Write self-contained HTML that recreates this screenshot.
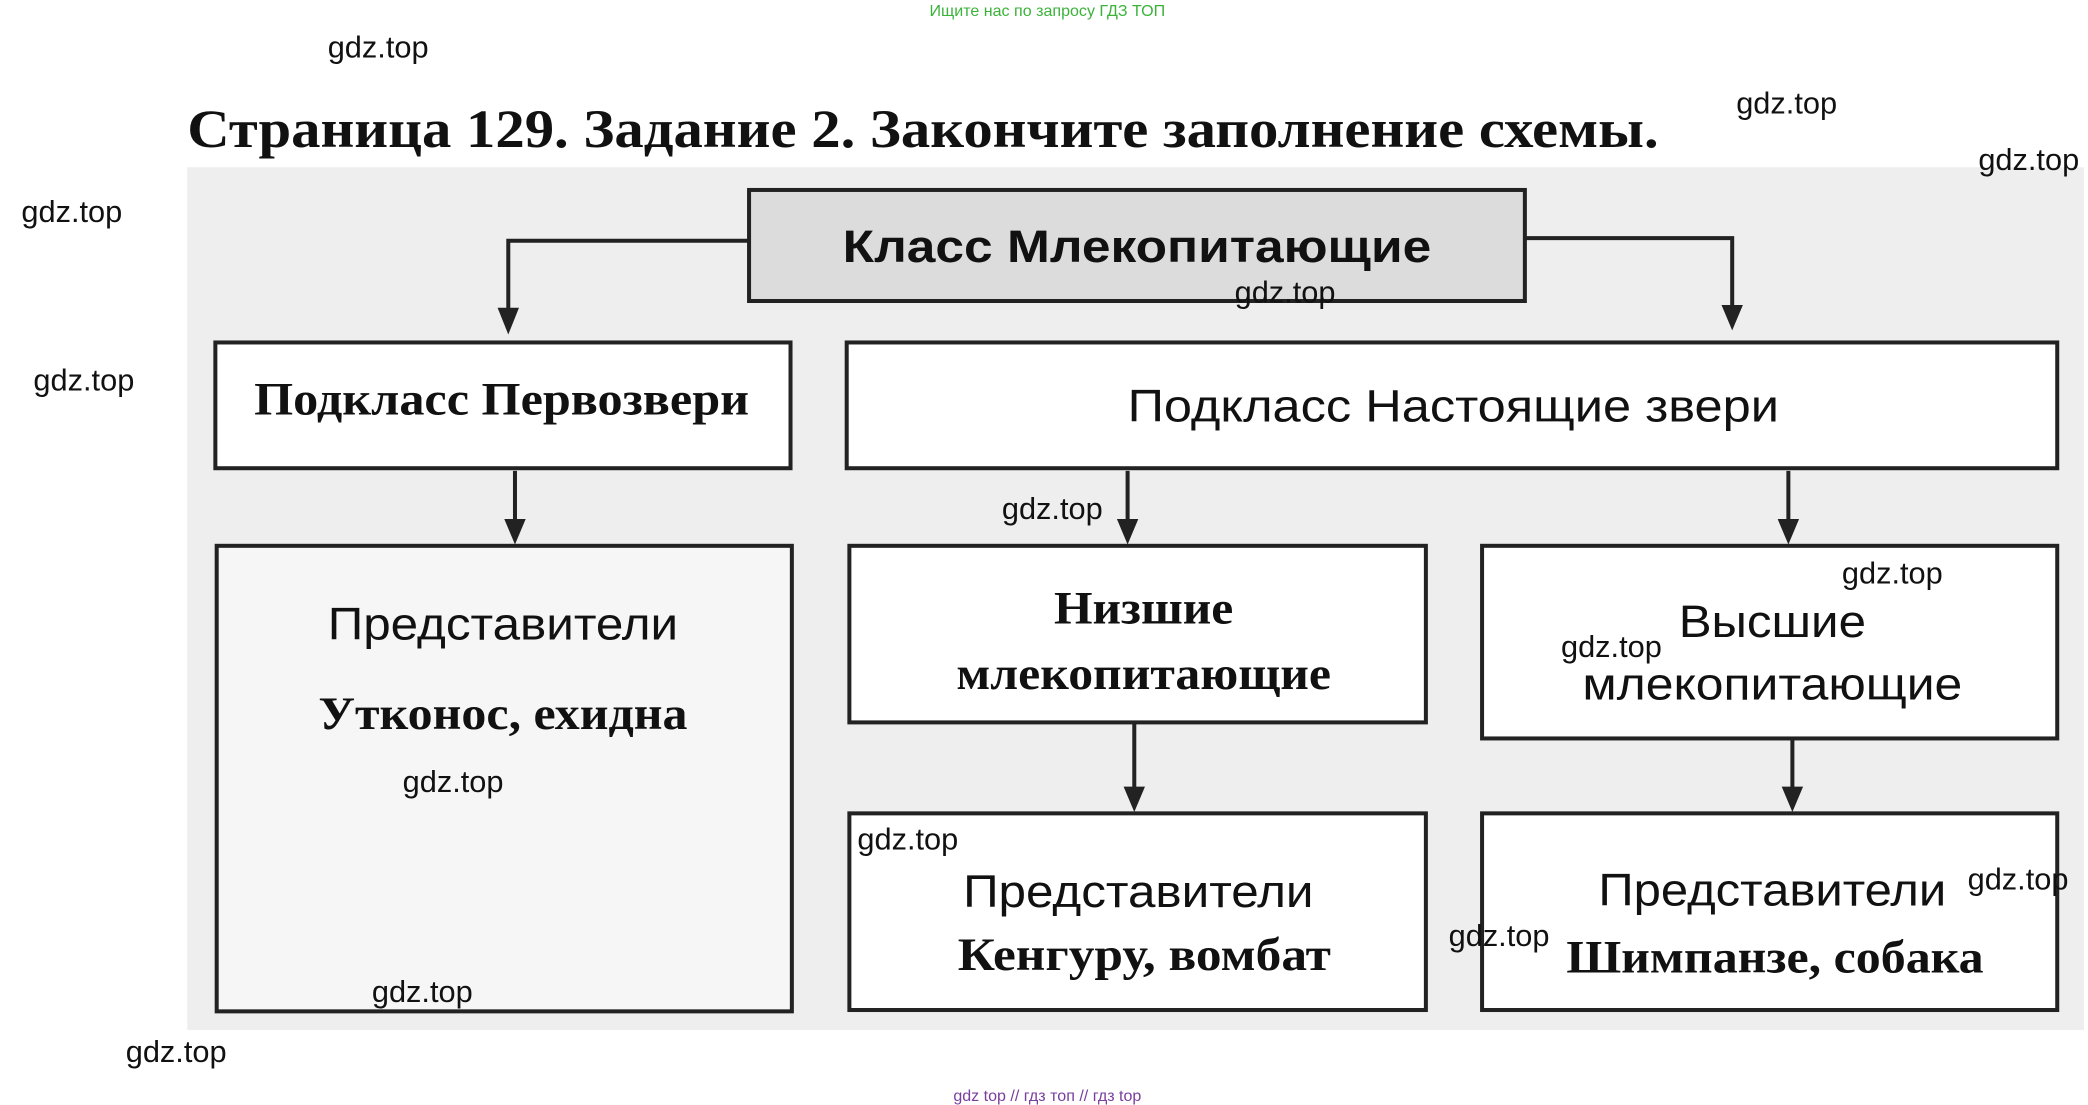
<!DOCTYPE html>
<html><head><meta charset="utf-8"><style>
html,body{margin:0;padding:0;background:#fff;}
svg{display:block;}
.s{font-family:"Liberation Sans",sans-serif;}
.r{font-family:"Liberation Serif",serif;font-weight:bold;}
.g{font-family:"Liberation Sans",sans-serif;font-size:23px;fill:#111;}
</style></head><body>
<svg width="2088" height="1105" viewBox="0 0 1561 826" preserveAspectRatio="none" xmlns="http://www.w3.org/2000/svg">
<rect x="140" y="125" width="1418" height="645" fill="#eeeeee"/>
<text x="783" y="12" text-anchor="middle" class="s" font-size="12" fill="#3bb33b">Ищите нас по запросу ГДЗ ТОП</text>
<text x="140" y="110" class="r" font-size="40" fill="#111" textLength="1100" lengthAdjust="spacingAndGlyphs">Страница 129. Задание 2. Закончите заполнение схемы.</text>
<g stroke="#222" stroke-width="3" fill="none">
<rect x="560" y="142" width="580" height="83" fill="#dcdcdc"/>
<rect x="161" y="256" width="430" height="94" fill="#fff"/>
<rect x="633" y="256" width="905" height="94" fill="#fff"/>
<rect x="162" y="408" width="430" height="348" fill="#f6f6f6"/>
<rect x="635" y="408" width="431" height="132" fill="#fff"/>
<rect x="1108" y="408" width="430" height="144" fill="#fff"/>
<rect x="635" y="608" width="431" height="147" fill="#fff"/>
<rect x="1108" y="608" width="430" height="147" fill="#fff"/>
<polyline points="560,180 380,180 380,240"/>
<polyline points="1140,178 1295,178 1295,236"/>
<line x1="385" y1="352" x2="385" y2="396"/>
<line x1="843" y1="352" x2="843" y2="396"/>
<line x1="1337" y1="352" x2="1337" y2="396"/>
<line x1="848" y1="540" x2="848" y2="596"/>
<line x1="1340" y1="552" x2="1340" y2="596"/>
</g>
<g fill="#222">
<path d="M372,230 L388,230 L380,250 Z"/>
<path d="M1287,228 L1303,228 L1295,247 Z"/>
<path d="M377,388 L393,388 L385,407 Z"/>
<path d="M835,388 L851,388 L843,407 Z"/>
<path d="M1329,388 L1345,388 L1337,407 Z"/>
<path d="M840,588 L856,588 L848,607 Z"/>
<path d="M1332,588 L1348,588 L1340,607 Z"/>
</g>
<text x="630" y="196" class="s" font-size="34" font-weight="bold" fill="#111" textLength="440" lengthAdjust="spacingAndGlyphs">Класс Млекопитающие</text>
<text x="190" y="310" class="r" font-size="35" fill="#111" textLength="370" lengthAdjust="spacingAndGlyphs">Подкласс Первозвери</text>
<text x="843" y="315" class="s" font-size="34" fill="#111" textLength="487" lengthAdjust="spacingAndGlyphs">Подкласс Настоящие звери</text>
<text x="245" y="478" class="s" font-size="34" fill="#111" textLength="262" lengthAdjust="spacingAndGlyphs">Представители</text>
<text x="238" y="545" class="r" font-size="35" fill="#111" textLength="276" lengthAdjust="spacingAndGlyphs">Утконос, ехидна</text>
<text x="788" y="466" class="r" font-size="35" fill="#111" textLength="134" lengthAdjust="spacingAndGlyphs">Низшие</text>
<text x="715" y="515" class="r" font-size="35" fill="#111" textLength="280" lengthAdjust="spacingAndGlyphs">млекопитающие</text>
<text x="1255" y="476" class="s" font-size="34" fill="#111" textLength="140" lengthAdjust="spacingAndGlyphs">Высшие</text>
<text x="1183" y="523" class="s" font-size="34" fill="#111" textLength="284" lengthAdjust="spacingAndGlyphs">млекопитающие</text>
<text x="720" y="678" class="s" font-size="34" fill="#111" textLength="262" lengthAdjust="spacingAndGlyphs">Представители</text>
<text x="716" y="725" class="r" font-size="35" fill="#111" textLength="279" lengthAdjust="spacingAndGlyphs">Кенгуру, вомбат</text>
<text x="1195" y="677" class="s" font-size="34" fill="#111" textLength="260" lengthAdjust="spacingAndGlyphs">Представители</text>
<text x="1171" y="727" class="r" font-size="35" fill="#111" textLength="312" lengthAdjust="spacingAndGlyphs">Шимпанзе, собака</text>
<text x="245" y="43" class="g">gdz.top</text>
<text x="1298" y="85" class="g">gdz.top</text>
<text x="1479" y="127" class="g">gdz.top</text>
<text x="16" y="166" class="g">gdz.top</text>
<text x="25" y="292" class="g">gdz.top</text>
<text x="923" y="226" class="g">gdz.top</text>
<text x="749" y="388" class="g">gdz.top</text>
<text x="1377" y="436" class="g">gdz.top</text>
<text x="1167" y="491" class="g">gdz.top</text>
<text x="301" y="592" class="g">gdz.top</text>
<text x="641" y="635" class="g">gdz.top</text>
<text x="1471" y="665" class="g" font-size="18">gdz.top</text>
<text x="1083" y="707" class="g">gdz.top</text>
<text x="278" y="749" class="g">gdz.top</text>
<text x="94" y="794" class="g">gdz.top</text>
<text x="783" y="823" text-anchor="middle" class="s" font-size="12" fill="#7a3e9d">gdz top  //  гдз топ  //  гдз top</text>
</svg>
</body></html>
